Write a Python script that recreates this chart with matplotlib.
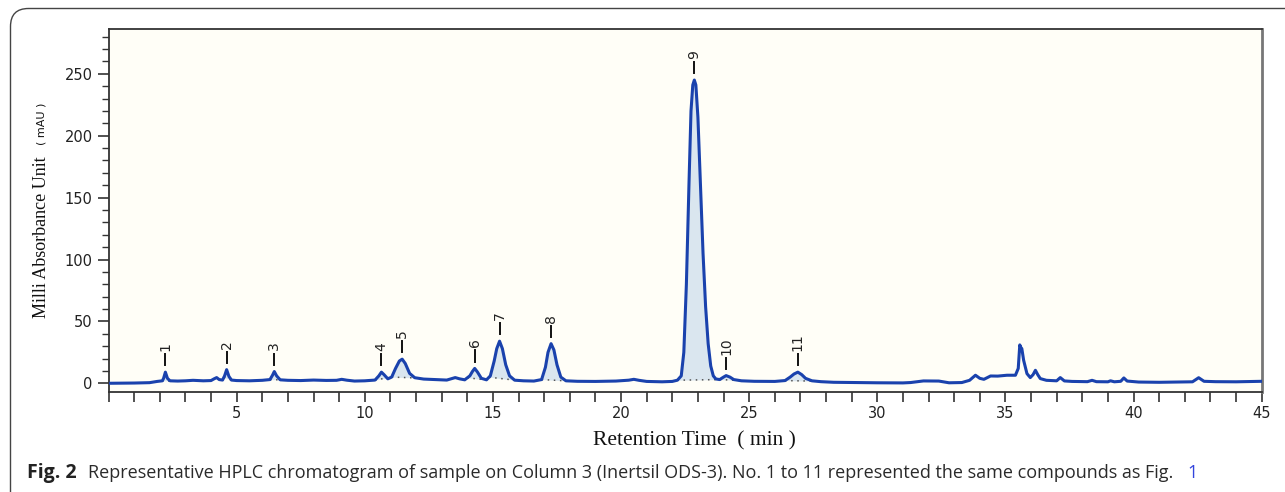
import numpy as np
import matplotlib.pyplot as plt
from matplotlib.patches import FancyBboxPatch
from matplotlib.transforms import IdentityTransform
from matplotlib.ticker import MultipleLocator

# trace: (time in min, absorbance in mAU)
trace = [
    (0.0, 0.0), (1.0, 0.2), (1.6, 0.5), (1.9, 1.5), (2.1, 2.0), (2.15, 4.0),
    (2.22, 9.0), (2.3, 4.0), (2.4, 2.0), (2.7, 1.8), (3.0, 2.0), (3.3, 2.4),
    (3.7, 2.0), (4.0, 2.2), (4.12, 3.6), (4.22, 4.6), (4.32, 3.0), (4.45, 2.6),
    (4.53, 6.0), (4.61, 11.0), (4.7, 5.5), (4.8, 2.6), (5.0, 2.2), (5.5, 2.0),
    (6.0, 2.4), (6.3, 3.0), (6.4, 6.5), (6.47, 9.5), (6.56, 6.0), (6.7, 2.8),
    (7.0, 2.4), (7.5, 2.2), (8.0, 2.6), (8.5, 2.3), (8.9, 2.4), (9.1, 3.2),
    (9.3, 2.5), (9.6, 1.8), (10.0, 2.0), (10.4, 2.6), (10.55, 6.0), (10.65, 9.0),
    (10.75, 7.0), (10.9, 3.6), (11.05, 5.0), (11.2, 12.0), (11.35, 18.0),
    (11.46, 19.5), (11.58, 16.0), (11.75, 8.0), (11.95, 4.5), (12.3, 3.4),
    (12.8, 3.0), (13.2, 2.6), (13.4, 3.8), (13.53, 4.6), (13.7, 3.6), (13.9, 2.8),
    (14.1, 6.0), (14.2, 9.5), (14.29, 12.0), (14.4, 9.0), (14.55, 4.0),
    (14.75, 2.8), (14.9, 6.0), (15.05, 18.0), (15.15, 28.0), (15.26, 34.0),
    (15.37, 28.0), (15.5, 15.0), (15.65, 6.0), (15.85, 2.5), (16.2, 2.0),
    (16.6, 1.8), (16.9, 3.0), (17.05, 13.0), (17.15, 25.0), (17.27, 32.0),
    (17.38, 27.0), (17.5, 15.0), (17.65, 5.0), (17.85, 2.0), (18.3, 1.6),
    (19.0, 1.5), (19.8, 1.8), (20.3, 2.5), (20.5, 3.2), (20.7, 2.4), (21.0, 1.5),
    (21.6, 1.2), (22.0, 1.5), (22.2, 2.5), (22.35, 6.0), (22.45, 25.0),
    (22.55, 80.0), (22.65, 160.0), (22.73, 220.0), (22.8, 241.0), (22.86, 245.0),
    (22.92, 241.0), (23.0, 215.0), (23.1, 160.0), (23.2, 105.0), (23.3, 62.0),
    (23.4, 32.0), (23.5, 14.0), (23.6, 6.0), (23.7, 3.5), (23.85, 3.0),
    (24.0, 5.0), (24.1, 6.2), (24.25, 5.0), (24.4, 3.0), (24.7, 2.0), (25.2, 1.6),
    (26.0, 1.5), (26.4, 2.2), (26.6, 5.0), (26.75, 7.5), (26.9, 9.0), (27.05, 7.0),
    (27.2, 4.0), (27.45, 2.0), (27.8, 1.3), (28.3, 0.8), (29.0, 0.6), (30.0, 0.4),
    (31.0, 0.3), (31.3, 0.6), (31.8, 1.9), (32.4, 1.8), (32.8, 0.4), (33.3, 0.6),
    (33.6, 2.4), (33.83, 6.5), (34.0, 4.0), (34.16, 3.2), (34.42, 5.9),
    (34.7, 5.8), (35.06, 6.5), (35.39, 6.5), (35.5, 12.0), (35.56, 31.0),
    (35.6, 29.0), (35.64, 28.0), (35.71, 18.6), (35.84, 7.8), (35.97, 4.6),
    (36.08, 7.0), (36.17, 10.5), (36.26, 7.0), (36.36, 3.8), (36.6, 2.4),
    (37.0, 2.0), (37.14, 4.6), (37.3, 1.9), (37.6, 1.5), (38.2, 1.3),
    (38.38, 2.4), (38.55, 1.3), (39.0, 1.2), (39.1, 2.0), (39.25, 1.2),
    (39.5, 1.6), (39.62, 4.3), (39.75, 1.8), (40.2, 1.0), (41.0, 0.8),
    (41.8, 1.0), (42.3, 1.2), (42.54, 4.5), (42.75, 1.6), (43.2, 1.3),
    (44.0, 1.2), (45.0, 1.6),
]

# numbered peaks: apex time, apex height, integration window
peak_no = ['1', '2', '3', '4', '5', '6', '7', '8', '9', '10', '11']
peak_rt = [2.22, 4.61, 6.47, 10.65, 11.46, 14.29, 15.26, 17.27, 22.86, 24.1, 26.9]
peak_h = [9.0, 11.0, 9.5, 9.0, 19.5, 12.0, 34.0, 32.0, 245.0, 6.2, 9.0]
peak_start = [2.1, 4.5, 6.3, 10.4, 11.05, 14.0, 14.85, 16.9, 22.2, 23.85, 26.4]
peak_end = [2.4, 4.8, 6.7, 11.05, 12.0, 14.75, 15.9, 17.85, 23.85, 24.6, 27.6]

rt = np.array([p[0] for p in trace])
mau = np.array([p[1] for p in trace])

W, H = 1285, 492
fig = plt.figure(figsize=(W / 100, H / 100), dpi=100)
# rounded frame round the figure, only its top-left corner is in view
frame = FancyBboxPatch((10.5, -60), 1400, H - 8.5 + 60,
                       boxstyle='round,pad=0,rounding_size=18',
                       transform=IdentityTransform(), fc='none', ec='#444444',
                       lw=1.0)
fig.patches.append(frame)

ax = fig.add_axes([108.5 / W, 1 - 391.7 / H, (1261.7 - 108.5) / W,
                   (391.7 - 29.3) / H])
ax.set_facecolor('#fffef7')

line_col = '#1a42ad'
for a, b in zip(peak_start, peak_end):
    ya = np.interp(a, rt, mau)
    yb = np.interp(b, rt, mau)
    m = (rt >= a) & (rt <= b)
    tt = np.concatenate([[a], rt[m], [b]])
    yy = np.concatenate([[ya], mau[m], [yb]])
    base = np.interp(tt, [a, b], [ya, yb])
    ax.fill_between(tt, yy, base, color='#dae6ef', lw=0, zorder=1)
    ax.plot([a, b], [ya, yb], ls=(0, (1, 3)), color='#555555', lw=1.1, zorder=2)

ax.plot(rt, mau, color=line_col, lw=2.2, zorder=3, solid_joinstyle='round')

for n, x, h in zip(peak_no, peak_rt, peak_h):
    ax.plot([x, x], [h + 5.5, h + 14.5], color='#111111', lw=1.4, zorder=4)
    ax.text(x, h + 17.0, n, rotation=90, ha='center', va='bottom',
            fontsize=10, color='#222222', family='DejaVu Sans')

ax.set_xlim(0, 45)
ax.set_ylim(-6.8, 286)
ax.set_xticks([5, 10, 15, 20, 25, 30, 35, 40, 45])
ax.xaxis.set_minor_locator(MultipleLocator(1))
ax.set_yticks([0, 50, 100, 150, 200, 250])
ax.yaxis.set_minor_locator(MultipleLocator(10))
ax.tick_params(axis='both', which='both', direction='out', colors='#333333',
               labelcolor='#222222', labelsize=10.5)
ax.tick_params(axis='x', which='both', length=7, width=1.2)
ax.tick_params(axis='y', which='major', length=8, width=1.2)
ax.tick_params(axis='y', which='minor', length=5, width=1.0)
for s in ax.spines.values():
    s.set_color('#333333')
    s.set_linewidth(1.3)
ax.spines['right'].set_color('#777777')
ax.spines['right'].set_linewidth(2.0)

fig.text(694 / W, 1 - 441 / H, 'Retention Time\u2002( min )', ha='center',
         va='center', fontsize=15.5, family='Liberation Serif', color='#111111')
fig.text(42 / W, 1 - 237 / H, 'Milli Absorbance Unit', rotation=90,
         ha='center', va='center', fontsize=13, family='Liberation Serif',
         color='#111111')
fig.text(41 / W, 1 - 124 / H, '( mAU )', rotation=90, ha='center',
         va='center', fontsize=8, family='DejaVu Sans', color='#111111')

fig.text(27 / W, 1 - 473 / H, 'Fig. 2', ha='left', va='center',
         fontsize=14, fontweight='bold', family='Open Sans', color='#222222')
fig.text(88 / W, 1 - 473 / H,
         'Representative HPLC chromatogram of sample on Column 3 (Inertsil ODS-3). '
         'No. 1 to 11 represented the same compounds as Fig.',
         ha='left', va='center', fontsize=13, family='Open Sans', color='#2a2a2a')
fig.text(1187 / W, 1 - 473 / H, '1', ha='left', va='center', fontsize=13,
         family='Open Sans', color='#3344dd')

fig.savefig('out.png', dpi=100)
